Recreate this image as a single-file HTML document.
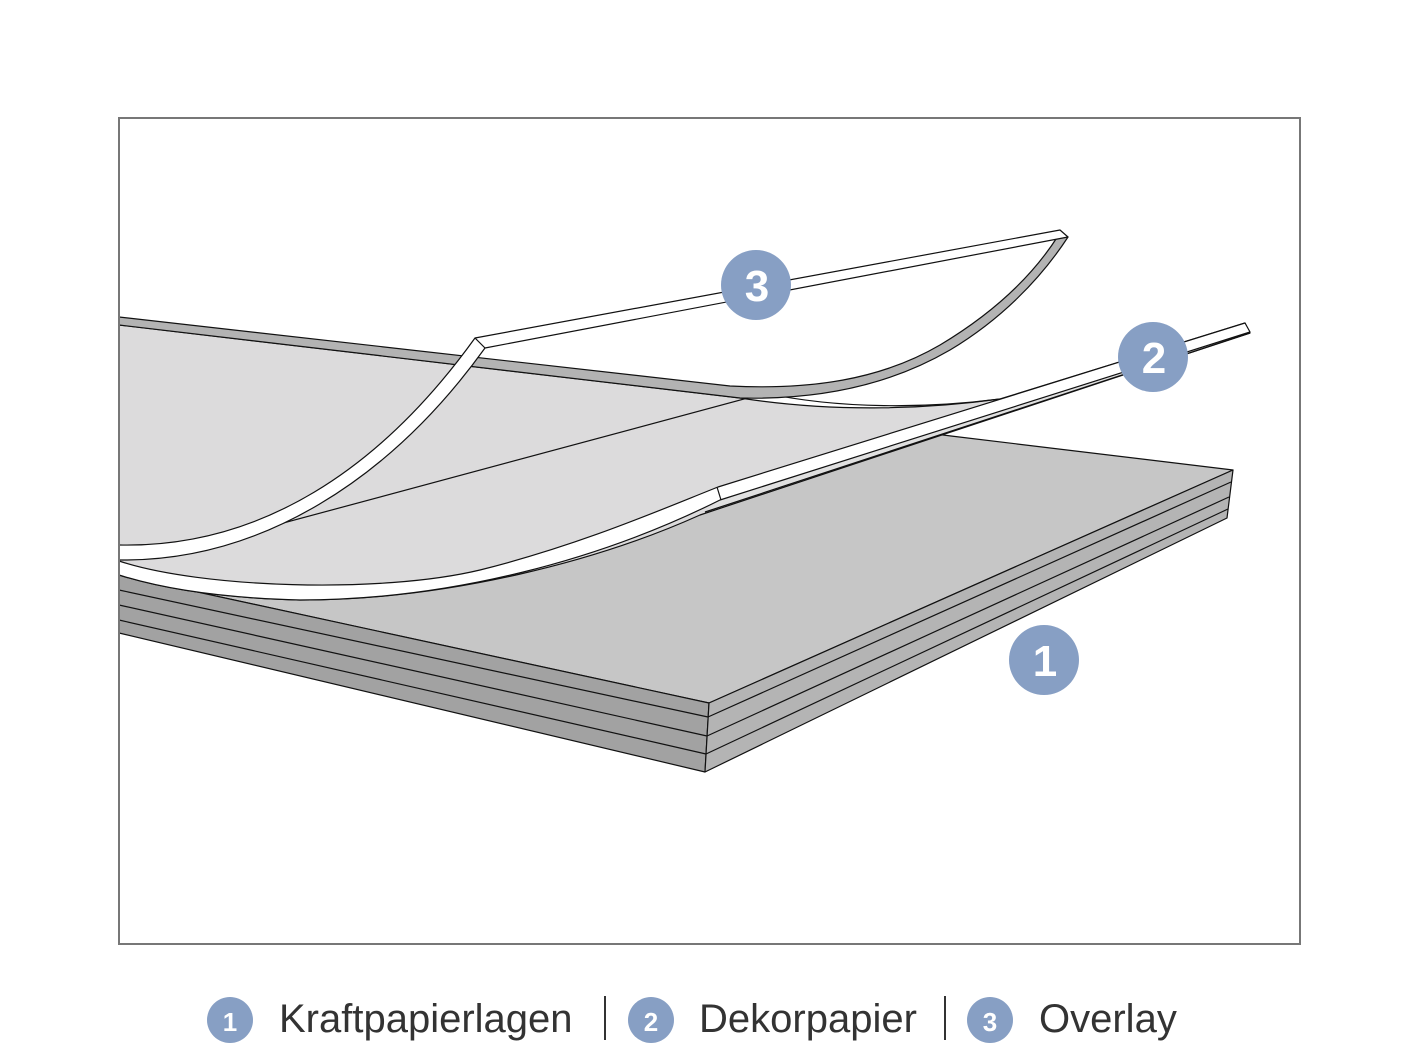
<!DOCTYPE html>
<html><head><meta charset="utf-8"><style>
html,body{margin:0;padding:0;background:#fff;}
svg{display:block;}
</style></head><body>
<svg width="1418" height="1063" viewBox="0 0 1418 1063" xmlns="http://www.w3.org/2000/svg" font-family="Liberation Sans, sans-serif">
<rect x="0" y="0" width="1418" height="1063" fill="#fff"/>
<g stroke="#111" stroke-width="1.2" stroke-linejoin="round">
<polygon points="119,330 951,436 1233,470 709,703 119,575" fill="#c6c6c6"/>
<polygon points="119,575 709,703 705,772 119,633" fill="#a2a2a2"/>
<polygon points="709,703 1233,470 1227,518 705,772" fill="#b4b4b4"/>
<polyline points="119,590 708,717 1231,482" fill="none"/>
<polyline points="119,605 707,736 1229,497" fill="none"/>
<polyline points="119,620 706,754 1228,509" fill="none"/>
<path d="M119,325 L740,398 C830,412 920,410 1000,399 L1245,323 L1250,333 L700,515 C600,560 450,600 300,600 C220,598 160,588 119,575 Z" fill="#dcdbdc"/>
<path d="M720,500 L1250,333 L705,512 Z" fill="#e0e0e0" stroke="none"/>
<line x1="705" y1="512" x2="1250" y2="333"/>
<line x1="250" y1="532" x2="770" y2="392"/>
<path d="M760,392 C840,410 930,408 1000,399" fill="none"/>
<path d="M119,561 C200,588 380,594 480,570 C580,545 660,510 718,487 L1245,323 L1250,332 L720,500 C600,560 450,600 300,600 C220,598 160,588 119,575 Z" fill="#fff"/>
<line x1="717" y1="487" x2="721" y2="500"/>
<path d="M119,317 L730,386 C810,390 880,380 940,345 C990,315 1030,280 1058,236 L1068,237 C1040,280 1000,320 950,350 C890,385 820,400 740,398 L119,325 Z" fill="#b3b3b3"/>
<path d="M119,545 C260,548 380,470 475,338 L1060,230 L1068,237 L485,348 C390,480 260,562 119,560 Z" fill="#fff"/>
<line x1="475" y1="338" x2="485" y2="348"/>
</g>
<rect x="119" y="118" width="1181" height="826" fill="none" stroke="#777" stroke-width="2"/>
<g fill="#879fc4">
<circle cx="756" cy="285" r="35"/>
<circle cx="1153" cy="357" r="35"/>
<circle cx="1044" cy="660" r="35"/>
</g>
<g fill="#fff" font-weight="bold" font-size="44" text-anchor="middle">
<text x="757" y="301">3</text>
<text x="1154" y="373">2</text>
<text x="1045" y="676">1</text>
</g>
<g fill="#879fc4">
<circle cx="230" cy="1020" r="23"/>
<circle cx="651" cy="1020" r="23"/>
<circle cx="990" cy="1020" r="23"/>
</g>
<g fill="#fff" font-weight="bold" font-size="26" text-anchor="middle">
<text x="230" y="1031">1</text>
<text x="651" y="1031">2</text>
<text x="990" y="1031">3</text>
</g>
<g fill="#333" font-size="40">
<text x="279" y="1032">Kraftpapierlagen</text>
<text x="699" y="1032">Dekorpapier</text>
<text x="1039" y="1032">Overlay</text>
</g>
<line x1="605" y1="996" x2="605" y2="1040" stroke="#333" stroke-width="2"/>
<line x1="945" y1="996" x2="945" y2="1040" stroke="#333" stroke-width="2"/>
</svg>
</body></html>
